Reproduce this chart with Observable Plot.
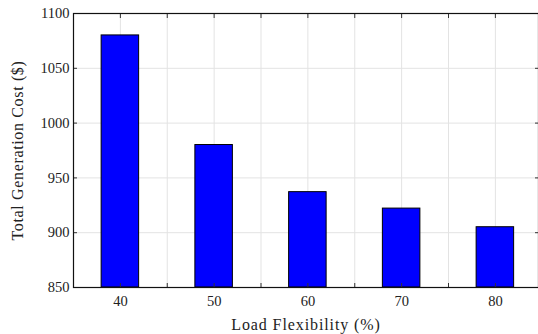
<!DOCTYPE html>
<html>
<head>
<meta charset="utf-8">
<script src="https://cdn.jsdelivr.net/npm/d3@7"></script>
<script src="https://cdn.jsdelivr.net/npm/@observablehq/plot@0.6"></script>
<style>
  html, body { margin: 0; padding: 0; background: #fff; }
  #chart svg { display: block; }
  #chart g[aria-label="x-axis label"] text { font-size: 16px; letter-spacing: 0.9px; }
  #chart g[aria-label="y-axis label"] text { font-size: 16px; letter-spacing: 0.65px; }
  #chart g[aria-label="x-axis tick label"] text,
  #chart g[aria-label="y-axis tick label"] text { font-size: 14.5px; }
</style>
</head>
<body>
<div id="chart"></div>
<script>
const flexibility = [40, 50, 60, 70, 80];
const cost = [1080, 980, 937, 922, 905];
const xTicks = [40, 50, 60, 70, 80];
const xGrid = [35, 40, 45, 50, 55, 60, 65, 70, 75, 80, 85];
const yTicks = [850, 900, 950, 1000, 1050, 1100];
const barHalfWidth = 2;

const data = flexibility.map((f, i) => ({f, c: cost[i]}));

const font = "'Liberation Serif', 'Times New Roman', serif";

const chart = Plot.plot({
  width: 538,
  height: 334,
  marginLeft: 73,
  marginRight: 0,
  marginTop: 13,
  marginBottom: 47,
  style: {fontFamily: font, fontSize: "13px", color: "#222", background: "#fff"},
  x: {domain: [35, 84.6], label: null},
  y: {domain: [850, 1100], label: null},
  marks: [
    Plot.ruleX(xGrid, {x: d => d, stroke: "#e3e3e3", strokeWidth: 1}),
    Plot.ruleY(yTicks, {y: d => d, stroke: "#e3e3e3", strokeWidth: 1}),
    Plot.rectY(data, {x1: d => d.f - barHalfWidth, x2: d => d.f + barHalfWidth, y1: 850, y2: "c", fill: "#0000ff", stroke: "#000", strokeWidth: 1}),
    Plot.axisX(xGrid, {anchor: "bottom", tickSize: -4, tickFormat: () => "", stroke: "#333"}),
    Plot.axisX(xGrid, {anchor: "top", tickSize: -4, tickFormat: () => "", stroke: "#333"}),
    Plot.axisX(xTicks, {anchor: "bottom", tickSize: 0, tickPadding: 8, tickFormat: d => String(d), fill: "#222", label: "Load Flexibility (%)", labelAnchor: "center", labelOffset: 42, labelArrow: "none"}),
    Plot.axisY(yTicks, {anchor: "left", tickSize: -4, tickPadding: 8, tickFormat: d => String(d), fill: "#222", stroke: "#333", label: "Total Generation Cost ($)", labelAnchor: "center", labelOffset: 62, labelArrow: "none"}),
    Plot.axisY(yTicks, {anchor: "right", tickSize: -4, tickFormat: () => "", stroke: "#333"}),
    Plot.frame({stroke: "#111", strokeWidth: 1.2})
  ]
});

document.getElementById("chart").appendChild(chart);
</script>
</body>
</html>
